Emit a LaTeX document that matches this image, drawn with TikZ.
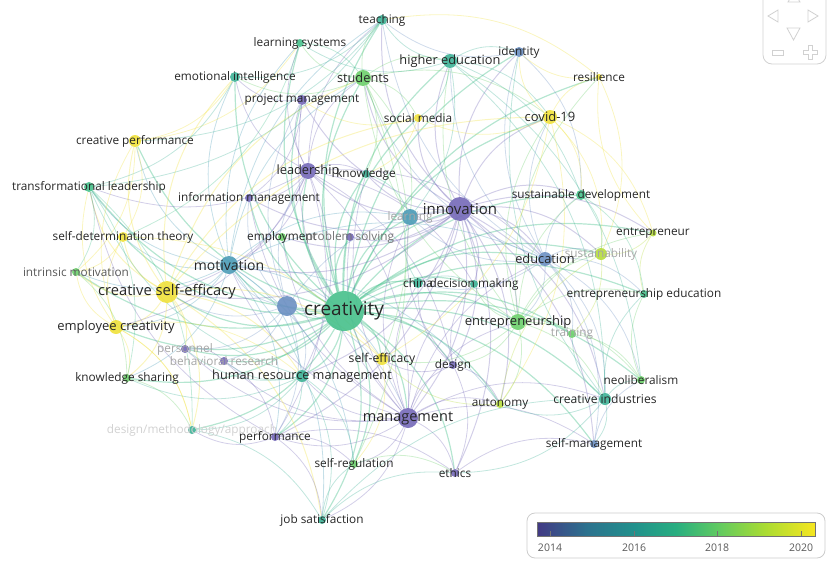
\documentclass[tikz,border=0pt]{standalone}
\usepackage{fontspec}
\setmainfont{Open Sans}
\usetikzlibrary{backgrounds}

\definecolor{v1}{HTML}{7468B8}
\definecolor{v2}{HTML}{6A8FC2}
\definecolor{v3}{HTML}{4A9BB6}
\definecolor{v4}{HTML}{3DB196}
\definecolor{v5}{HTML}{46C08B}
\definecolor{v6}{HTML}{6CCF6A}
\definecolor{v7}{HTML}{B5DB3C}
\definecolor{v8}{HTML}{F0E13A}
\definecolor{g1}{RGB}{66,57,132}
\definecolor{g2}{RGB}{44,114,142}
\definecolor{g3}{RGB}{33,145,140}
\definecolor{g4}{RGB}{40,174,128}
\definecolor{g5}{RGB}{94,201,98}
\definecolor{g6}{RGB}{170,220,50}
\definecolor{g7}{RGB}{246,230,32}
\pgfdeclarehorizontalshading{viridis}{100bp}{color(0bp)=(g1); color(25bp)=(g1); color(34bp)=(g2); color(42.5bp)=(g3); color(50bp)=(g4); color(57.3bp)=(g5); color(66bp)=(g6); color(75bp)=(g7); color(100bp)=(g7)}

\begin{document}
\begin{tikzpicture}[x=1pt, y=-1pt,
  kw/.style={circle, inner sep=0pt, minimum size=#1, fill opacity=0.9},
  lab/.style={font=\fontsize{11.8}{13}\selectfont, text=black!85, inner sep=0pt},
  medlab/.style={lab, font=\fontsize{12.8}{15}\selectfont},
  dimlab/.style={lab, text=black!35},
  ed/.style={draw=#1, line width=0.8pt, draw opacity=0.32, bend left=24},
  navicon/.style={draw=black!18, line width=0.8pt}]
\useasboundingbox (0,0) rectangle (830,562);

\node[kw=10pt, fill=v4, label={[lab]center:teaching}] (teaching) at (382,20) {};
\node[kw=8pt, fill=v5, label={[lab]center:learning systems}] (learnsys) at (300,43) {};
\node[kw=14pt, fill=v4, label={[medlab]center:higher education}] (higher) at (450,61) {};
\node[kw=10pt, fill=v2, label={[lab]center:identity}] (identity) at (519,52) {};
\node[kw=6pt, fill=v8, label={[lab]center:resilience}] (resilience) at (599,77) {};
\node[kw=10pt, fill=v4, label={[lab]center:emotional intelligence}] (emotional) at (235,77) {};
\node[kw=16pt, fill=v6, label={[medlab]center:students}] (students) at (363,78) {};
\node[kw=10pt, fill=v1, label={[lab]center:project management}] (projman) at (302,100) {};
\node[kw=8pt, fill=v8, label={[lab]center:social media}] (social) at (418,118) {};
\node[kw=14pt, fill=v8, label={[lab, font=\fontsize{13}{15}\selectfont]center:covid-19}] (covid) at (550,117) {};
\node[kw=12pt, fill=v8, label={[lab]center:creative performance}] (creaperf) at (135,141) {};
\node[kw=16pt, fill=v1, label={[medlab]center:leadership}] (leadership) at (308,171) {};
\node[kw=8pt, fill=v4, label={[lab]center:knowledge}] (knowledge) at (366,174) {};
\node[kw=10pt, fill=v5, label={[lab]center:transformational leadership}] (transform) at (89,187) {};
\node[kw=8pt, fill=v1, label={[lab]center:information management}] (infoman) at (249,198) {};
\node[kw=16pt, fill=v3, label={[dimlab]center:learning}] (learning) at (410,217) {};
\node[kw=24pt, fill=v1, label={[lab, font=\fontsize{15}{17}\selectfont]center:innovation}] (innovation) at (460,209) {};
\node[kw=10pt, fill=v5, label={[lab]center:sustainable development}] (susdev) at (581,195) {};
\node[kw=7pt, fill=v7, label={[lab]center:entrepreneur}] (entrepreneur) at (653,233) {};
\node[kw=10pt, fill=v8, label={[lab]center:self-determination theory}] (sdt) at (123,237) {};
\node[kw=8pt, fill=v6, label={[lab]center:employment}] (employment) at (282,237) {};
\node[kw=8pt, fill=v1, label={[lab, text=black!55]center:problem solving}] (probsolv) at (350,237) {};
\node[kw=12pt, fill=v7, label={[dimlab]center:sustainability}] (sustain) at (601,254) {};
\node[kw=14pt, fill=v2, label={[medlab]center:education}] (education) at (545,259) {};
\node[kw=8pt, fill=v6, label={[lab, text=black!65]center:intrinsic motivation}] (intrinsic) at (76,272) {};
\node[kw=18pt, fill=v3, label={[lab, font=\fontsize{14}{16}\selectfont]center:motivation}] (motivation) at (229,265) {};
\node[kw=22pt, fill=v8, label={[lab, font=\fontsize{14.7}{17}\selectfont]center:creative self-efficacy}] (cse) at (167,292) {};
\node[kw=10pt, fill=v4, label={[lab]center:china}] (china) at (418,283) {};
\node[kw=8pt, fill=v4, label={[lab]center:decision making}] (decision) at (474,284) {};
\node[kw=8pt, fill=v5, label={[lab]center:entrepreneurship education}] (entedu) at (644,294) {};
\node[kw=20pt, fill=v2] (hub) at (287,306) {};
\node[kw=40pt, fill=v5, label={[lab, font=\fontsize{19}{22}\selectfont]center:creativity}] (creativity) at (344,311) {};
\node[kw=16pt, fill=v6, label={[lab, font=\fontsize{13}{15}\selectfont]center:entrepreneurship}] (entrepreneurship) at (518,322) {};
\node[kw=8pt, fill=v6, label={[dimlab]center:training}] (training) at (572,334) {};
\node[kw=14pt, fill=v8, label={[lab, font=\fontsize{13}{15}\selectfont]center:employee creativity}] (empcrea) at (116,327) {};
\node[kw=8pt, fill=v1, label={[dimlab]center:personnel}] (personnel) at (185,349) {};
\node[kw=8pt, fill=v1, label={[dimlab]center:behavioral research}] (behav) at (224,361) {};
\node[kw=12pt, fill=v8, label={[lab, font=\fontsize{12.2}{14}\selectfont]center:self-efficacy}] (selfeff) at (382,359) {};
\node[kw=8pt, fill=v1, label={[lab]center:design}] (design) at (453,365) {};
\node[kw=8pt, fill=v6, label={[lab]center:knowledge sharing}] (knowshar) at (127,378) {};
\node[kw=12pt, fill=v4, label={[lab, font=\fontsize{12.7}{14}\selectfont]center:human resource management}] (hrm) at (302,376) {};
\node[kw=8pt, fill=v6, label={[lab]center:neoliberalism}] (neolib) at (641,380) {};
\node[kw=8pt, fill=v7, label={[lab]center:autonomy}] (autonomy) at (500,404) {};
\node[kw=12pt, fill=v4, label={[lab, font=\fontsize{12.1}{14}\selectfont]center:creative industries}] (creaind) at (605,399) {};
\node[kw=20pt, fill=v1, label={[lab, font=\fontsize{14.5}{17}\selectfont]center:management}] (management) at (408,418) {};
\node[kw=8pt, fill=v4, label={[lab, text=black!18]center:design/methodology/approach}] (designmeth) at (192,430) {};
\node[kw=8pt, fill=v1, label={[lab]center:performance}] (performance) at (275,437) {};
\node[kw=8pt, fill=v2, label={[lab]center:self-management}] (selfman) at (594,444) {};
\node[kw=8pt, fill=v6, label={[lab]center:self-regulation}] (selfreg) at (354,464) {};
\node[kw=8pt, fill=v1, label={[lab]center:ethics}] (ethics) at (455,473) {};
\node[kw=8pt, fill=v4, label={[lab]center:job satisfaction}] (jobsat) at (322,520) {};

\begin{scope}[on background layer]
\foreach \t in {teaching, learnsys, higher, identity, emotional, students, projman, social, covid, creaperf, leadership, knowledge, transform, infoman, learning, innovation, susdev, entrepreneur, sdt, employment, probsolv, sustain, education, intrinsic, motivation, cse, china, decision, entedu, entrepreneurship, training, empcrea, personnel, behav, selfeff, design, knowshar, hrm, neolib, autonomy, creaind, management, designmeth, performance, selfman, selfreg, ethics, jobsat, resilience, hub}
  \draw[ed=v5, line width=1.2pt, draw opacity=0.4] (creativity) to (\t);
\foreach \t in {teaching, higher, identity, students, projman, social, covid, leadership, knowledge, infoman, learning, susdev, sustain, education, motivation, china, decision, entrepreneurship, design, management, performance, ethics, hrm, probsolv, employment, cse, creaind, selfman, autonomy, entrepreneur}
  \draw[ed=v1, line width=1pt] (innovation) to (\t);
\foreach \t in {projman, emotional, students, transform, infoman, knowledge, motivation, management, hrm, performance, cse, empcrea, education, teaching, learnsys, design, decision}
  \draw[ed=v1] (leadership) to (\t);
\foreach \t in {projman, infoman, probsolv, design, ethics, performance, hrm, behav, personnel, decision, selfreg, jobsat, education, learning, china, autonomy, entrepreneurship, creaind, selfman, knowledge, employment, motivation}
  \draw[ed=v1] (management) to (\t);
\foreach \t in {students, emotional, sdt, intrinsic, cse, empcrea, creaperf, transform, selfeff, learning, education, teaching, learnsys, performance, jobsat, knowshar, selfreg, hrm, autonomy}
  \draw[ed=v3] (motivation) to (\t);
\foreach \t in {creaperf, transform, sdt, intrinsic, empcrea, knowshar, selfeff, emotional, students, covid, social, designmeth, hrm, jobsat, personnel}
  \draw[ed=v8, line width=1pt] (cse) to (\t);
\foreach \t in {transform, creaperf, sdt, knowshar, intrinsic, hrm, designmeth}
  \draw[ed=v8] (empcrea) to (\t);
\foreach \t in {higher, identity, students, teaching, learning, susdev, sustain, entrepreneurship, entedu, covid, creaind, neolib, china, training, selfman}
  \draw[ed=v2] (education) to (\t);
\foreach \t in {entrepreneur, entedu, training, sustain, susdev, creaind, neolib, autonomy, selfeff, decision, design, higher, students, covid, resilience}
  \draw[ed=v6] (entrepreneurship) to (\t);
\foreach \t in {teaching, learnsys, higher, emotional, social, covid, knowledge, learning, selfeff, selfreg}
  \draw[ed=v6] (students) to (\t);
\foreach \t in {teaching, learnsys, identity, covid, social, susdev, learning, neolib, creaind}
  \draw[ed=v4] (higher) to (\t);
\foreach \t in {resilience, social, sustain, susdev, entrepreneur, identity, selfeff, autonomy}
  \draw[ed=v8] (covid) to (\t);
\foreach \t in {motivation, cse, leadership, personnel, behav, hrm, management, innovation, performance, infoman, projman}
  \draw[ed=v2] (hub) to (\t);
\foreach \t in {designmeth, performance, jobsat, knowshar, personnel, behav, selfreg, transform}
  \draw[ed=v4] (hrm) to (\t);
\foreach \t in {neolib, selfman, entedu, training, identity, autonomy, ethics}
  \draw[ed=v4] (creaind) to (\t);
\foreach \t in {ethics, decision, china, learning, selfeff, autonomy}
  \draw[ed=v1] (design) to (\t);
\foreach \t in {jobsat, designmeth, selfreg, ethics, transform}
  \draw[ed=v1] (performance) to (\t);
\foreach \a/\b/\c in {teaching/creaperf/v4, teaching/transform/v4, teaching/resilience/v8, teaching/emotional/v4, learnsys/sdt/v5, learnsys/creaperf/v8, emotional/transform/v4, emotional/creaperf/v8, creaperf/sdt/v8, creaperf/intrinsic/v8, transform/knowshar/v5, transform/designmeth/v5, transform/intrinsic/v5, sdt/intrinsic/v8, intrinsic/knowshar/v6, knowshar/designmeth/v6, designmeth/jobsat/v4, jobsat/selfreg/v4, jobsat/creaind/v4, jobsat/ethics/v4, selfreg/ethics/v6, ethics/selfman/v1, selfman/neolib/v2, neolib/entedu/v6, entedu/entrepreneur/v7, entrepreneur/sustain/v7, entrepreneur/resilience/v8, resilience/sustain/v8, resilience/identity/v8, identity/susdev/v2, identity/teaching/v2, susdev/sustain/v5, susdev/entedu/v5, sustain/training/v7, training/neolib/v6, social/knowledge/v8, social/projman/v8, projman/infoman/v1, projman/emotional/v1, knowledge/learning/v4, china/decision/v4, china/learning/v4, autonomy/selfeff/v7, autonomy/sustain/v7, selfeff/selfreg/v8, sdt/selfeff/v8, empcrea/designmeth/v8, personnel/behav/v1, behav/performance/v1, learnsys/students/v5}
  \draw[ed=\c] (\a) to (\b);
\end{scope}

\node[draw=black!18, line width=0.8pt, rounded corners=9pt, minimum width=63pt, minimum height=80pt, inner sep=0pt] (nav) at (794.5,24) {};
\draw[navicon] (788,2) -- (800,2) -- (794,-8) -- cycle;
\draw[navicon] (778,10) -- (778,22) -- (768,16) -- cycle;
\draw[navicon] (808,10) -- (808,22) -- (818,16) -- cycle;
\draw[navicon] (787,28) -- (800,28) -- (793.5,40) -- cycle;
\draw[navicon] (772,50) rectangle (783,55);
\draw[navicon] (808,45) -- (812,45) -- (812,50) -- (817,50) -- (817,54) -- (812,54) -- (812,59) -- (808,59) -- (808,54) -- (803,54) -- (803,50) -- (808,50) -- cycle;

\node[draw=black!20, line width=0.8pt, rounded corners=8pt, minimum width=298pt, minimum height=45pt, inner sep=0pt] (legend) at (676,535.5) {};
\node[shade, shading=viridis, draw=black!55, minimum width=278pt, minimum height=14pt, inner sep=0pt] (colorbar) at (676,529) {};
\foreach \x/\yr in {550/2014, 634/2016, 717/2018, 801/2020} {
  \draw[black!55] (\x,536) -- (\x,531);
  \node[font=\fontsize{10.5}{12}\selectfont, text=black!65] (yr\yr) at (\x,548) {\yr};
}
\end{tikzpicture}
\end{document}
